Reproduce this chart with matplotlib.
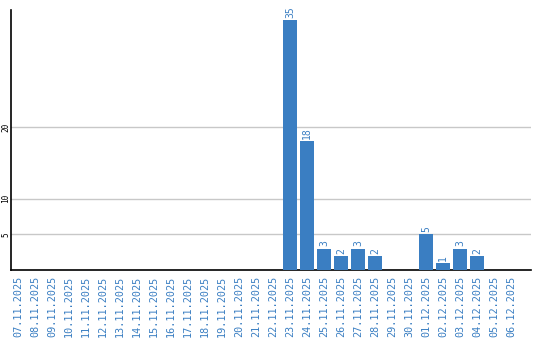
import matplotlib
matplotlib.use("Agg")
import matplotlib.pyplot as plt

dates = ["07.11.2025", "08.11.2025", "09.11.2025", "10.11.2025", "11.11.2025",
         "12.11.2025", "13.11.2025", "14.11.2025", "15.11.2025", "16.11.2025",
         "17.11.2025", "18.11.2025", "19.11.2025", "20.11.2025", "21.11.2025",
         "22.11.2025", "23.11.2025", "24.11.2025", "25.11.2025", "26.11.2025",
         "27.11.2025", "28.11.2025", "29.11.2025", "30.11.2025", "01.12.2025",
         "02.12.2025", "03.12.2025", "04.12.2025", "05.12.2025", "06.12.2025"]
values = [0, 0, 0, 0, 0, 0, 0, 0, 0, 0, 0, 0, 0, 0, 0, 0,
          35, 18, 3, 2, 3, 2, 0, 0, 5, 1, 3, 2, 0, 0]
y_ticks = [5, 10, 20]

blue = "#3a7ec2"

fig = plt.figure(figsize=(5.4, 3.4), dpi=100)
ax = fig.add_axes([11/540, 70/340, 520/540, 260/340])

x = list(range(len(dates)))
ax.bar(x, values, width=0.82, color=blue, zorder=3)
for xi, v in zip(x, values):
    if v > 0:
        ax.text(xi, v + 0.3, str(v), rotation=90, ha="center", va="bottom",
                color=blue, fontsize=7, family="DejaVu Sans Mono")

ax.set_xlim(-0.42, 30.18)
ax.set_ylim(0, 36.4)
ax.set_yticks(y_ticks)
ax.set_yticklabels([str(t) for t in y_ticks], rotation=90, va="center",
                   fontsize=5.6, family="DejaVu Sans Mono")
ax.set_xticks(x)
ax.set_xticklabels(dates, rotation=90, color=blue, fontsize=7.3,
                   family="DejaVu Sans Mono", va="top", ha="center")
ax.tick_params(axis="x", length=0, pad=4)
ax.tick_params(axis="y", length=0, pad=0.5)
ax.grid(axis="y", color="#c8c8c8", linewidth=1, zorder=0)
for s in ["top", "right"]:
    ax.spines[s].set_visible(False)
ax.spines["left"].set_color("black")
ax.spines["bottom"].set_color("black")
ax.spines["left"].set_linewidth(1.2)
ax.spines["bottom"].set_linewidth(1.2)

fig.savefig("out.png", dpi=100)
